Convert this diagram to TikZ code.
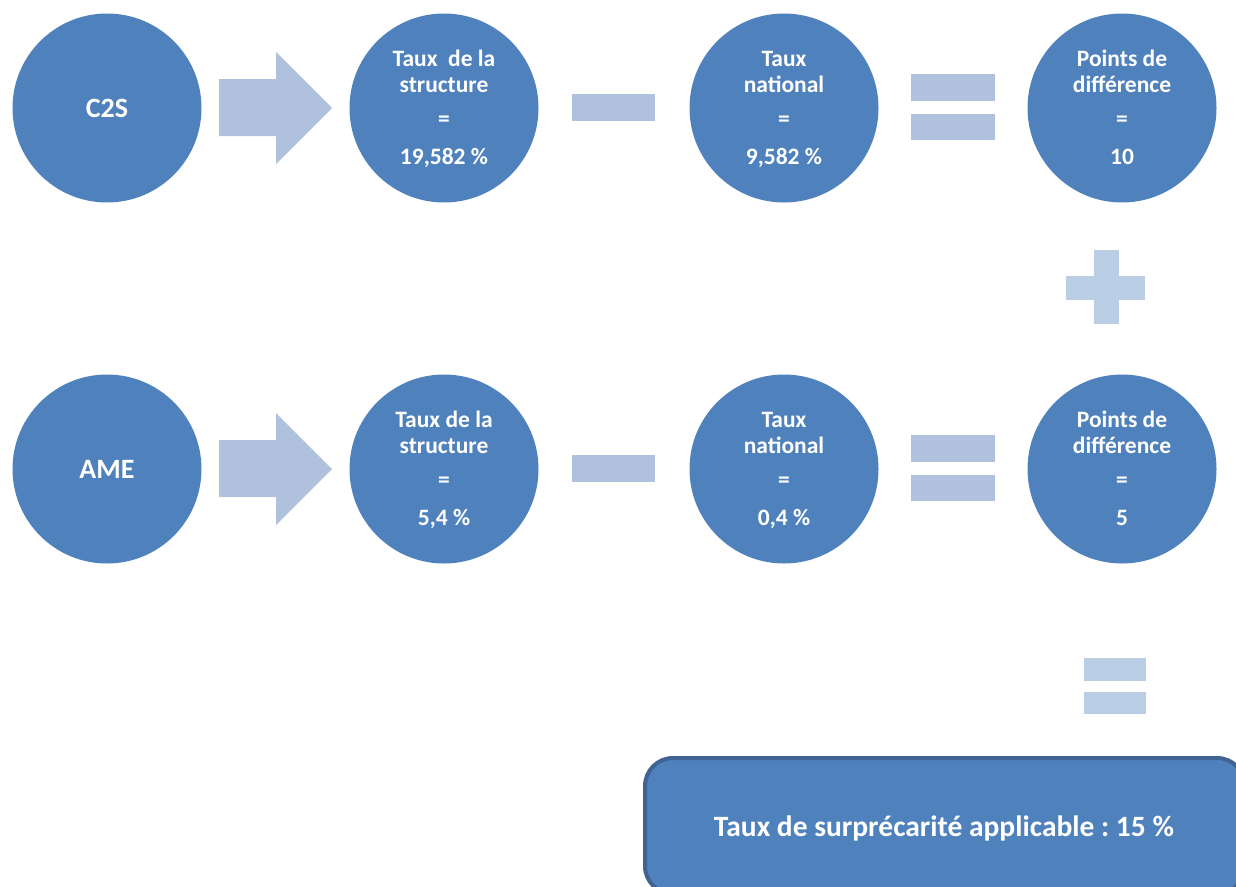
\documentclass[tikz,border=0pt]{standalone}
\usepackage{fontspec}
\setmainfont{Carlito}
\usetikzlibrary{calc}
\definecolor{cblue}{HTML}{4F81BD}
\definecolor{clight}{HTML}{B0C1DD}
\definecolor{clighttwo}{HTML}{B9CDE5}
\definecolor{cborder}{HTML}{3F6494}
\newcommand\mycirctext[4]{%
  \node[ctxt] (#1-a) at ($(#1)+(0,-42)$) {#2};
  \node[ctxt] (#1-b) at ($(#1)+(0,-16)$) {#3};
  \node[ctxt,anchor=center] (#1-c) at ($(#1)+(0,13)$) {=};
  \node[ctxt] (#1-d) at ($(#1)+(0,56)$) {#4};
}
\begin{document}
\frenchspacing
\begin{tikzpicture}[x=1pt,y=-1pt,
  circ/.style={circle,fill=cblue,minimum size=189pt,inner sep=0pt},
  ctxt/.style={text=white,font=\bfseries\fontsize{23.5}{28}\selectfont,anchor=base,inner sep=0pt},
  bigtxt/.style={text=white,font=\bfseries\fontsize{28}{32}\selectfont,inner sep=0pt},
  op/.style={fill=clight},
  optwo/.style={fill=clighttwo}]
\useasboundingbox (0,0) rectangle (1236,886);
\clip (0,0) rectangle (1236,886);
% circles
\node[circ] (c2s) at (107,108) {};
\node[circ] (s1) at (444,108) {};
\node[circ] (n1) at (784,108) {};
\node[circ] (p1) at (1122,108) {};
\node[circ] (ame) at (107,469) {};
\node[circ] (s2) at (444,469) {};
\node[circ] (n2) at (784,469) {};
\node[circ] (p2) at (1122,469) {};
% texts
\node[bigtxt] (c2s-t) at (c2s) {C2S};
\node[bigtxt] (ame-t) at (ame) {AME};
\mycirctext{s1}{Taux\ \ de la}{structure}{19,582 \%}
\mycirctext{n1}{Taux}{national}{9,582 \%}
\mycirctext{p1}{Points de}{différence}{10}
\mycirctext{s2}{Taux de la}{structure}{5,4 \%}
\mycirctext{n2}{Taux}{national}{0,4 \%}
\mycirctext{p2}{Points de}{différence}{5}
% arrows
\foreach \dy in {0,361}{
  \fill[op] (219,79+\dy) -- (276,79+\dy) -- (276,52+\dy) -- (332,108+\dy)
     -- (276,164+\dy) -- (276,136+\dy) -- (219,136+\dy) -- cycle;
  \fill[op] (572,94+\dy) rectangle (655,121+\dy);
  \fill[op] (911,74+\dy) rectangle (995,101+\dy);
  \fill[op] (911,114+\dy) rectangle (995,140+\dy);
}
% plus
\fill[optwo] (1066,276) rectangle (1145,300);
\fill[optwo] (1094,250) rectangle (1119,324);
% bottom equals
\fill[optwo] (1084,658) rectangle (1146,681);
\fill[optwo] (1084,692) rectangle (1146,714);
% result box
\node[draw=cborder,line width=4pt,fill=cblue,rounded corners=28pt,
  minimum width=600pt,minimum height=136pt,inner sep=0pt] (res) at (945,826) {};
\node[bigtxt,anchor=base,font=\bfseries\fontsize{29.5}{34}\selectfont] (res-t) at (944,836) {Taux de surprécarité applicable : 15 \%};
\end{tikzpicture}
\end{document}
